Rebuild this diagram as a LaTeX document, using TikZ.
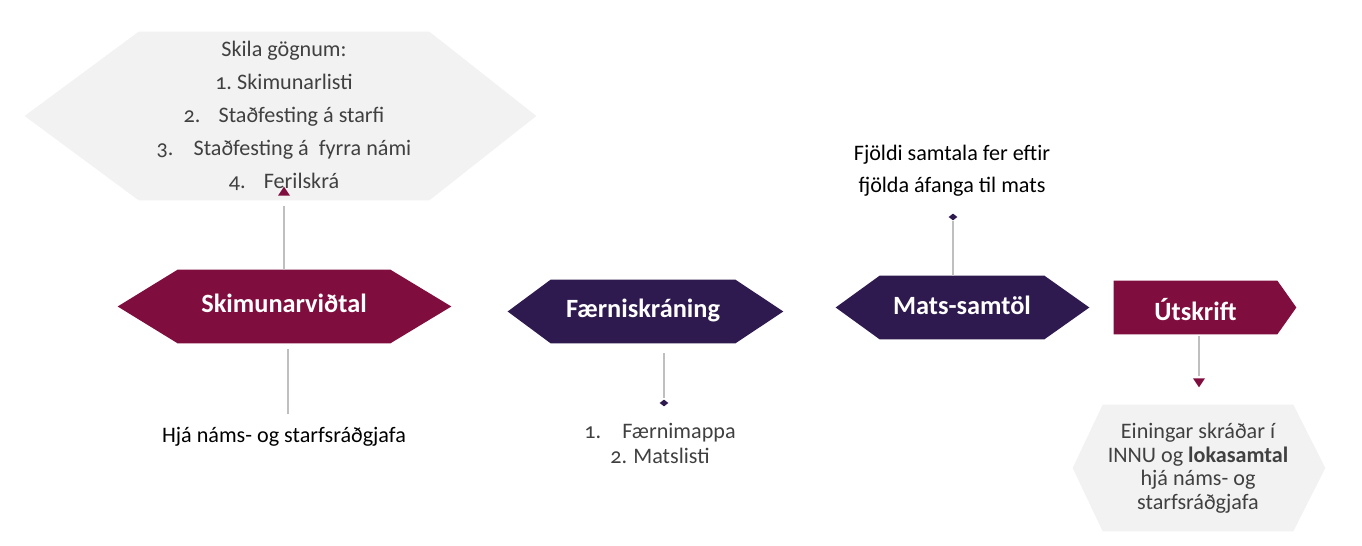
\documentclass[tikz,border=0pt]{standalone}
\usepackage{fontspec}
\setmainfont{Carlito}[Numbers=OldStyle]
\usetikzlibrary{calc,backgrounds,shapes.geometric}

\definecolor{vinred}{HTML}{7F0D3D}
\definecolor{vinpurple}{HTML}{2E1A4F}
\definecolor{hexgrey}{HTML}{F2F2F2}
\definecolor{linegrey}{HTML}{BFBFBF}
\definecolor{txtgrey}{HTML}{404040}

\newlength\pxu
\setlength\pxu{0.02cm}
% fill a hexagon round a box node: colour, node, left and right point depth
\newcommand\hexfill[4]{%
  \fill[#1] (#2.north west) -- (#2.north east) -- ($(#2.east)+(#4,0)$)
    -- (#2.south east) -- (#2.south west) -- ($(#2.west)-(#3,0)$) -- cycle;}

\begin{document}
\begin{tikzpicture}
    [
    x=0.02cm, y=-0.02cm,
    hexbox/.style={inner sep=0pt, align=center},
    stage/.style={hexbox, text=white, font=\fontsize{15}{17}\selectfont\bfseries},
    notetext/.style={align=center, inner sep=0pt, text=txtgrey, font=\fontsize{12.6}{18.7}\selectfont},
    link/.style={draw=linegrey, line width=1.5\pxu},
    tipmark/.style={isosceles triangle, isosceles triangle stretches, inner sep=0pt,
      fill=vinred, minimum width=12\pxu, minimum height=9\pxu},
    dotmark/.style={diamond, inner sep=0pt, fill=vinpurple, minimum width=9\pxu, minimum height=7\pxu}
    ]
\useasboundingbox (0,0) rectangle (1362,546);

% stages
\node[stage, minimum width=212\pxu, minimum height=73\pxu, text height=12\pxu, text depth=0pt]
  (skim) at (284,306.5) {Skimunarviðtal};
\node[stage, minimum width=184\pxu, minimum height=63\pxu, text height=13\pxu, text depth=0pt]
  (faerni) at (643,311.5) {Færniskráning};
\node[stage, minimum width=164\pxu, minimum height=63\pxu, text height=15\pxu, text depth=0pt]
  (mats) at (962,307.5) {Mats-samtöl};
\node[stage, minimum width=163\pxu, minimum height=53\pxu, text height=27\pxu, text depth=0pt]
  (utskrift) at (1195.5,307.5) {Útskrift};

% grey boxes and notes
\node[hexbox, notetext, minimum width=290\pxu, minimum height=168\pxu] (skila) at (284,116)
  {Skila gögnum:\\
   \makebox[22\pxu][l]{1.}Skimunarlisti\\
   \makebox[35\pxu][l]{2.}Staðfesting á starfi\\
   \makebox[37\pxu][l]{3.}Staðfesting á \ fyrra námi\\
   \makebox[35\pxu][l]{4.}Ferilskrá};
\node[hexbox, notetext, font=\fontsize{12.6}{13.4}\selectfont, minimum width=190\pxu, minimum height=126\pxu]
  (eining) at (1198,468)
  {Einingar skráðar í\\ INNU og \textbf{lokasamtal}\\ hjá náms- og\\ starfsráðgjafa};
\node[notetext, text=black, anchor=base] (hja) at (284,443) {Hjá náms- og starfsráðgjafa};
\node[notetext, text=black, font=\fontsize{12.6}{18.1}\selectfont] (fjoldi) at (952,171)
  {Fjöldi samtala fer eftir\\ fjölda áfanga til mats};
\node[notetext, font=\fontsize{12.6}{14.2}\selectfont] (flist) at (660,443.5)
  {\makebox[38\pxu][l]{1.}Færnimappa\\ \makebox[23\pxu][l]{2.}Matslisti};

% markers
\node[tipmark, shape border rotate=90] (t1) at (284,192.5) {};
\node[dotmark] (d1) at (664,403) {};
\node[dotmark] (d2) at (953,217) {};
\node[tipmark, shape border rotate=270] (t2) at (1199,381.5) {};
\coordinate (e1) at (288,414);

\begin{scope}[on background layer]
\hexfill{hexgrey}{skila}{114}{107}
\hexfill{hexgrey}{eining}{30}{32}
\hexfill{vinred}{skim}{60}{61}
\hexfill{vinpurple}{faerni}{43}{48}
\hexfill{vinpurple}{mats}{44}{45}
\fill[vinred] (utskrift.north west) -- (utskrift.north east) -- ($(utskrift.east)+(19,0)$)
  -- (utskrift.south east) -- (utskrift.south west) -- cycle;
\end{scope}

% connectors
\draw[link, shorten >=10\pxu] (skim.north) -- (t1);
\draw[link, shorten <=6\pxu] (skim.south -| e1) -- (e1);
\draw[link, shorten <=10\pxu, shorten >=1\pxu] (faerni.south -| d1) -- (d1);
\draw[link] (mats.north -| d2) -- (d2);
\draw[link, shorten <=2\pxu, shorten >=2\pxu] (utskrift.south -| t2) -- (t2);
\end{tikzpicture}
\end{document}
